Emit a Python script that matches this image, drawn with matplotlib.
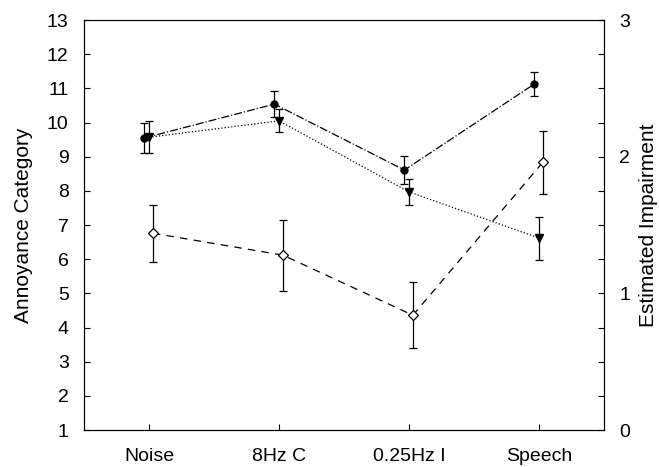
"""Annoyance category and estimated impairment per stimulus type."""

import matplotlib

matplotlib.use("Agg")
import matplotlib.pyplot as plt
import numpy as np

plt.rcParams["font.family"] = ["Liberation Sans", "DejaVu Sans"]
plt.rcParams["font.size"] = 14

categories = ["Noise", "8Hz C", "0.25Hz I", "Speech"]

# annoyance category (left axis)
circle_mean = [9.55, 10.54, 8.61, 11.13]
circle_err = [0.44, 0.38, 0.41, 0.36]
triangle_mean = [9.57, 10.05, 7.97, 6.62]
triangle_err = [0.47, 0.34, 0.37, 0.63]

# estimated impairment (right axis)
diamond_mean = [1.44, 1.28, 0.84, 1.96]
diamond_err = [0.21, 0.26, 0.24, 0.23]

x = np.arange(1, len(categories) + 1)

fig = plt.figure(figsize=(6.59, 4.67), dpi=100)
ax = fig.add_axes([0.1275, 0.0792, 0.789, 0.8778])
ax2 = ax.twinx()

common = dict(color="black", elinewidth=0.9, capsize=3, capthick=0.9, linewidth=0.9)
ax.errorbar(x - 0.035, circle_mean, yerr=circle_err, fmt="o", linestyle="-.",
            markersize=5, markerfacecolor="black", **common)
ax.errorbar(x, triangle_mean, yerr=triangle_err, fmt="v", linestyle=":",
            markersize=6, markerfacecolor="black", **common)
ax2.errorbar(x + 0.03, diamond_mean, yerr=diamond_err, fmt="D", linestyle="--",
             markersize=5, markerfacecolor="white", markeredgewidth=0.9,
             dashes=(6, 5), **common)

ax.set_xlim(0.5, 4.5)
ax.set_ylim(1, 13)
ax.set_yticks(range(1, 14))
ax.set_xticks(x)
ax.set_xticklabels(categories)
ax.set_ylabel("Annoyance Category", fontsize=15)
ax.yaxis.set_label_coords(-0.098, 0.5)
ax.tick_params(direction="in", length=4, width=0.8, pad=11)
ax.tick_params(axis="x", pad=13)

ax2.set_ylim(0, 3)
ax2.set_yticks([0, 1, 2, 3])
ax2.set_yticks(np.arange(0, 3.01, 0.25), minor=True)
ax2.tick_params(direction="in", length=4, width=0.8, pad=11)
ax2.tick_params(which="minor", direction="in", length=4, width=0.8)
fig.text(0.999, ax.get_position().y0 + ax.get_position().height / 2,
         "Estimated Impairment", rotation=90, ha="right", va="center", fontsize=15)

for a in (ax, ax2):
    for s in a.spines.values():
        s.set_linewidth(0.8)

fig.savefig("out.png", dpi=100)
